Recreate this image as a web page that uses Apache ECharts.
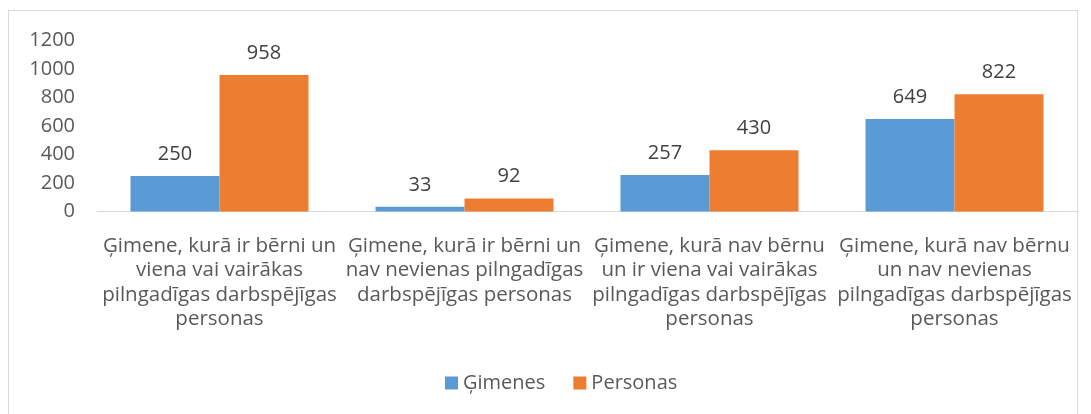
<!DOCTYPE html>
<html>
<head>
<meta charset="utf-8">
<script src="https://cdn.jsdelivr.net/npm/echarts@6/dist/echarts.min.js"></script>
<style>
  html, body { margin: 0; padding: 0; background: #fff; }
  #chart { width: 1091px; height: 414px; position: relative; }
  .frame { position: absolute; left: 8px; top: 10px; width: 1070px; height: 420px; border: 1px solid #d9d9d9; box-sizing: border-box; }
</style>
</head>
<body>
<div class="frame"></div>
<div id="chart"></div>
<script>
var categories = [
  'Ģimene, kurā ir bērni un\nviena vai vairākas\npilngadīgas darbspējīgas\npersonas',
  'Ģimene, kurā ir bērni un\nnav nevienas pilngadīgas\ndarbspējīgas personas',
  'Ģimene, kurā nav bērnu\nun ir viena vai vairākas\npilngadīgas darbspējīgas\npersonas',
  'Ģimene, kurā nav bērnu\nun nav nevienas\npilngadīgas darbspējīgas\npersonas'
]
var gimenes = [250, 33, 257, 649]
var personas = [958, 92, 430, 822]

var font = '"Open Sans", sans-serif'
var chart = echarts.init(document.getElementById('chart'))

chart.setOption({
  animation: false,
  color: ['#5B9BD5', '#ED7D31'],
  textStyle: { fontFamily: font },
  grid: { left: 97, right: 14, top: 40.5, bottom: 202.5 },
  legend: {
    bottom: 16,
    left: 440,
    itemWidth: 13,
    itemHeight: 13,
    itemGap: 28,
    icon: 'rect',
    textStyle: { color: '#595959', fontSize: 20, fontFamily: font },
    data: ['Ģimenes', 'Personas']
  },
  xAxis: {
    type: 'category',
    data: categories,
    axisLine: { lineStyle: { color: '#d9d9d9', width: 1 } },
    axisTick: { show: false },
    axisLabel: {
      interval: 0,
      color: '#595959',
      fontSize: 20.5,
      lineHeight: 24.5,
      margin: 22,
      fontFamily: font
    }
  },
  yAxis: {
    type: 'value',
    min: 0,
    max: 1200,
    interval: 200,
    splitLine: { show: false },
    axisLine: { show: false },
    axisTick: { show: false },
    axisLabel: {
      color: '#595959',
      fontSize: 20,
      margin: 22,
      fontFamily: font,
      formatter: function (v) { return String(v) }
    }
  },
  series: [
    {
      name: 'Ģimenes',
      type: 'bar',
      barWidth: 89,
      barGap: '0%',
      data: gimenes,
      label: { show: true, position: 'top', distance: 12, color: '#404040', fontSize: 20, fontFamily: font }
    },
    {
      name: 'Personas',
      type: 'bar',
      barWidth: 89,
      barGap: '0%',
      data: personas,
      label: { show: true, position: 'top', distance: 12, color: '#404040', fontSize: 20, fontFamily: font }
    }
  ]
})
</script>
</body>
</html>
